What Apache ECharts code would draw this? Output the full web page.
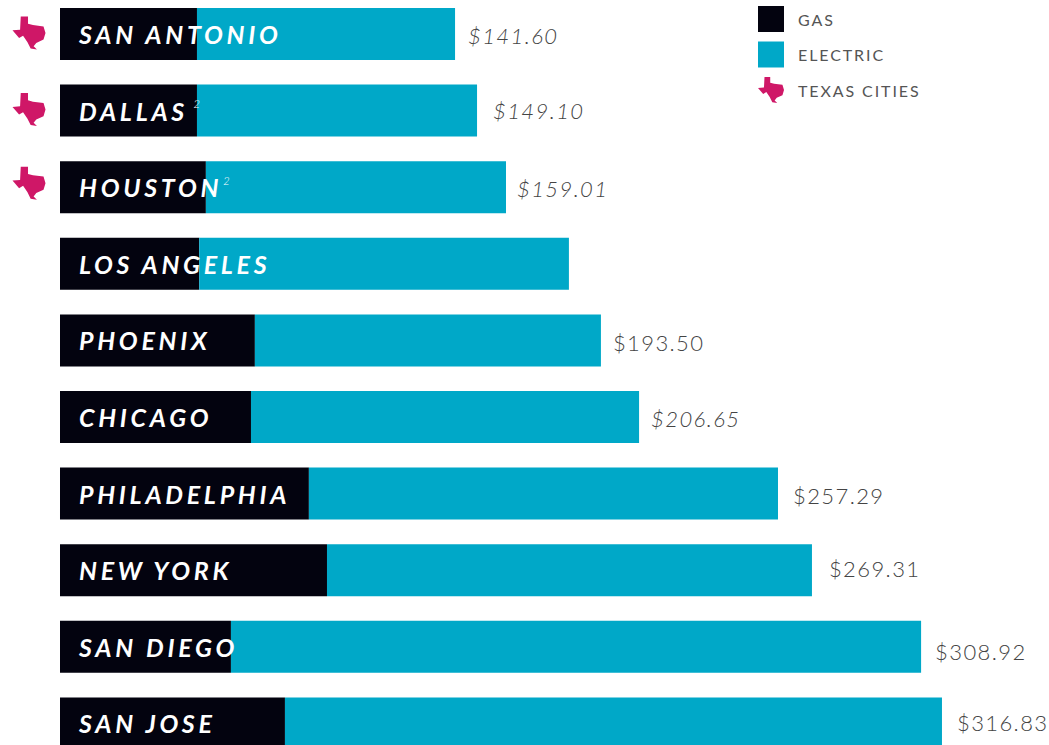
<!DOCTYPE html>
<html><head><meta charset="utf-8">
<style>
html,body{margin:0;padding:0;background:#fff;overflow:hidden}
#c{width:1049px;height:745px}
#c text[style*="bold"]{letter-spacing:3.7px}
#c text[style*="22px"]{letter-spacing:1.4px}
#c text[style*="16px"]{letter-spacing:1.9px}
</style>
<script src="https://cdn.jsdelivr.net/npm/echarts@6/dist/echarts.min.js"></script>
</head><body><div id="c"></div>
<script>
const cities=["SAN ANTONIO","DALLAS","HOUSTON","LOS ANGELES","PHOENIX","CHICAGO","PHILADELPHIA","NEW YORK","SAN DIEGO","SAN JOSE"];
const cityNotes=["","2","2","","","","","","",""];
const gas=[49.2,49.2,52.4,50.0,70.0,68.6,89.4,95.9,61.4,80.8];
const electric=[92.7,100.6,107.8,132.8,124.3,139.4,168.5,174.2,247.9,236.0];
const totalLabels=["$141.60","$149.10","$159.01","","$193.50","$206.65","$257.29","$269.31","$308.92","$316.83"];
const italicLabels=[true,true,true,false,false,true,false,false,false,false];
const labelGaps=[13,16,11,12,12,12,15,17,14,15];
const labelShifts=[1,0,1,0,2,1,2,-2,5,-1];
const texasCities=["SAN ANTONIO","DALLAS","HOUSTON"];
const starShifts=[-1,-1,-4];
const legendNames=["GAS","ELECTRIC","TEXAS CITIES"];
const TEXAS="path://M25 0L47 0L47 22L62 26L94 30L100 50L94 70L72 80L64 90L74 100L55 97L45 77L32 58L20 65L0 42L23 40Z";
const PINK="#CF1767",DARK="#03030F",BLUE="#00A8C8";
const pxPerUnit=2.784;
const cityFont={color:'#fff',fontFamily:'Lato',fontStyle:'italic',fontWeight:'bold',fontSize:25};
const noteFont={color:'#fff',fontFamily:'Lato',fontStyle:'italic',fontWeight:300,fontSize:11,verticalAlign:'top',lineHeight:5};
const chart=echarts.init(document.getElementById('c'),null,{renderer:'svg'});
chart.setOption({
 animation:false,backgroundColor:'#fff',
 textStyle:{fontFamily:'Lato'},
 grid:{left:0,right:0,top:-4.3,height:766,containLabel:false,outerBoundsMode:'none'},
 xAxis:{type:'value',show:false,min:-60/pxPerUnit,max:(1049-60)/pxPerUnit,splitLine:{show:false}},
 yAxis:{type:'category',inverse:true,data:cities,show:false},
 legend:{
  orient:'vertical',left:753,top:1,itemWidth:26,itemHeight:26,itemGap:9.5,itemStyle:{borderWidth:0},
  selectedMode:false,
  textStyle:{fontFamily:'Lato',fontSize:16,color:'#555',padding:[0,0,0,9]},
  data:[{name:legendNames[0],icon:'rect'},{name:legendNames[1],icon:'rect'},{name:legendNames[2],icon:TEXAS}]
 },
 series:[
  {name:legendNames[0],type:'bar',stack:'t',barWidth:52,data:gas,itemStyle:{color:DARK},
   label:{show:true,position:'insideLeft',distance:19,...cityFont,
    formatter:p=>cityNotes[p.dataIndex]?`{n|${p.name}}{s${p.name.length}|${cityNotes[p.dataIndex]}}`:`{n|${p.name}}`,
    rich:{n:cityFont,s6:{...noteFont,padding:[0,0,0,28]},s7:{...noteFont,padding:[0,0,0,27]}}}},
  {name:legendNames[1],type:'bar',stack:'t',barWidth:52,itemStyle:{color:BLUE},
   data:electric.map((v,i)=>({value:v,label:{show:totalLabels[i]!=="",position:'right',distance:labelGaps[i],offset:[0,labelShifts[i]],formatter:totalLabels[i],
     color:'#444',fontFamily:'Lato',fontWeight:300,fontSize:22,fontStyle:italicLabels[i]?'italic':'normal'}}))},
  {name:legendNames[2],type:'scatter',symbol:TEXAS,symbolSize:33,symbolKeepAspect:true,itemStyle:{color:PINK,opacity:1},
   data:texasCities.map((c,i)=>({value:[-31/pxPerUnit,c],symbolOffset:[0,starShifts[i]]}))}
 ]
});
</script></body></html>
